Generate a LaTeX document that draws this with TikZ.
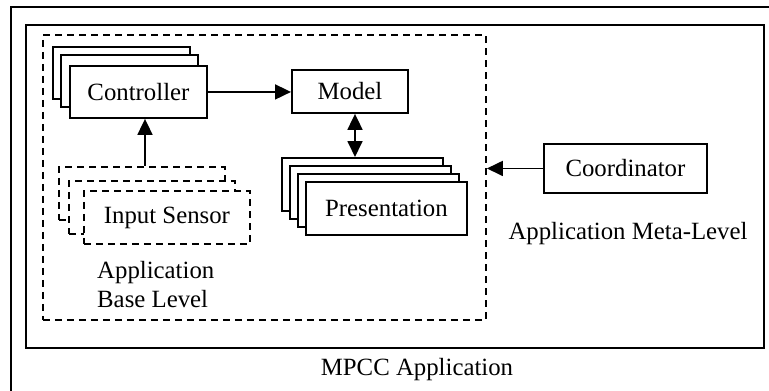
\documentclass[tikz,border=0pt]{standalone}
\usepackage{fontspec}
\setmainfont{Liberation Serif}
\usetikzlibrary{arrows.meta}
\begin{document}
\begin{tikzpicture}[x=1pt,y=-1pt,
  every node/.style={font=\fontsize{24.8}{29}\selectfont},
  box/.style={draw, fill=white, line width=1.9pt, inner sep=0pt, anchor=north west},
  dbox/.style={box, dash pattern=on 7pt off 5pt},
  frame/.style={draw, line width=2.2pt, inner sep=0pt, anchor=north west},
  tip/.style={Triangle[length=16pt,width=15pt]},
  arr/.style={line width=1.8pt, -{Triangle[length=16pt,width=15pt]}},
  darr/.style={line width=1.8pt, {Triangle[length=16pt,width=15pt]}-{Triangle[length=16pt,width=15pt]}},
  lbl/.style={inner sep=0pt}]
\clip (0,0) rectangle (769,391);
% frames
\node[frame, minimum width=780pt, minimum height=400pt] (app) at (10,6) {};
\node[frame, minimum width=738pt, minimum height=323pt] (meta) at (25,24) {};
\node[frame, line width=1.9pt, dash pattern=on 7pt off 5pt, minimum width=443pt, minimum height=285pt] (base) at (42,34) {};
% controller stack
\node[box, minimum width=137pt, minimum height=52pt] (c1) at (52,46) {};
\node[box, minimum width=137pt, minimum height=52pt] (c2) at (60,54) {};
\node[box, minimum width=137pt, minimum height=52pt] (ctrl) at (69,65) {Controller};
% model
\node[box, minimum width=116pt, minimum height=43pt] (model) at (291,69) {Model};
% input sensor stack
\node[dbox, minimum width=166pt, minimum height=53pt] (s1) at (58,166) {};
\node[dbox, minimum width=166pt, minimum height=53pt] (s2) at (68,180) {};
\node[dbox, minimum width=166pt, minimum height=53pt] (sensor) at (83,190) {Input Sensor};
% presentation stack
\node[box, minimum width=161pt, minimum height=53pt] (p1) at (281,157) {};
\node[box, minimum width=161pt, minimum height=53pt] (p2) at (289,165) {};
\node[box, minimum width=161pt, minimum height=53pt] (p3) at (297,173) {};
\node[box, minimum width=161pt, minimum height=53pt] (pres) at (305,181) {Presentation};
% coordinator
\node[box, minimum width=163pt, minimum height=49pt] (coord) at (543,143) {Coordinator};
% labels
\node[lbl, anchor=north west, align=left] (basel) at (97,261) {Application\\Base Level};
\node[lbl, anchor=base] (metal) at (628,239) {Application Meta-Level};
\node[lbl, anchor=base] (appl) at (417,375) {MPCC Application};
% connectors
\coordinate (ax) at (145,0);
\coordinate (bx) at (355,0);
\draw[arr] (s1.north -| ax) -- (ctrl.south -| ax);
\draw[arr] (ctrl.east) -- (ctrl.east -| model.west);
\draw[darr] (model.south -| bx) -- (p1.north -| bx);
\draw[arr] (coord.west) -- (coord.west -| base.east);
\end{tikzpicture}
\end{document}
